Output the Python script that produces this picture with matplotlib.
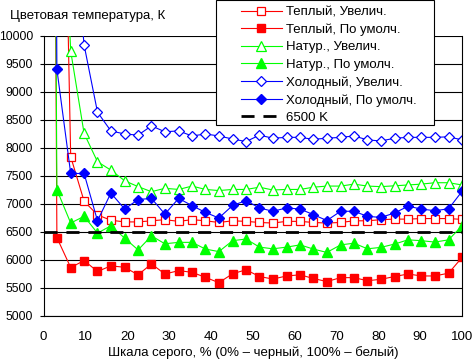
import matplotlib
matplotlib.use('Agg')
import matplotlib.pyplot as plt
from matplotlib.patches import Rectangle

plt.rcParams['font.family'] = ['Liberation Sans', 'DejaVu Sans']

# шкала серого, %
gray = [0, 3.2, 6.5, 9.7, 12.9, 16.1, 19.4, 22.6, 25.8, 29.0, 32.3, 35.5, 38.7,
        41.9, 45.2, 48.4, 51.6, 54.8, 58.1, 61.3, 64.5, 67.7, 71.0, 74.2, 77.4,
        80.6, 83.9, 87.1, 90.3, 93.5, 96.8, 100]

warm_zoom = [50000, 20000, 7845, 7050, 6805, 6710, 6680, 6680, 6700, 6720, 6690,
             6720, 6700, 6670, 6700, 6690, 6670, 6660, 6690, 6690, 6670, 6660,
             6670, 6700, 6700, 6720, 6730, 6730, 6740, 6740, 6740, 6725]
warm_def = [50000, 6400, 5865, 5990, 5795, 5895, 5870, 5735, 5930, 5750, 5810,
            5780, 5690, 5595, 5755, 5825, 5705, 5660, 5715, 5735, 5670, 5615,
            5685, 5685, 5630, 5655, 5705, 5750, 5715, 5715, 5765, 6045]
nat_zoom = [50000, 15000, 9730, 8260, 7755, 7605, 7415, 7310, 7220, 7280, 7260,
            7320, 7260, 7240, 7260, 7260, 7300, 7250, 7260, 7260, 7300, 7320,
            7320, 7355, 7320, 7310, 7325, 7340, 7355, 7380, 7380, 7340]
nat_def = [50000, 7255, 6660, 6780, 6480, 6610, 6390, 6180, 6430, 6290, 6315,
           6315, 6195, 6150, 6345, 6375, 6230, 6200, 6230, 6270, 6195, 6135,
           6270, 6300, 6200, 6225, 6285, 6360, 6345, 6320, 6360, 6610]
cold_zoom = [50000, 30000, 12500, 9840, 8640, 8305, 8250, 8230, 8395, 8290, 8305,
             8215, 8250, 8215, 8160, 8115, 8230, 8175, 8190, 8190, 8155, 8175,
             8190, 8215, 8145, 8125, 8175, 8190, 8190, 8190, 8200, 8145]
cold_def = [50000, 9405, 7545, 7545, 6700, 7195, 6910, 7080, 7100, 6820, 7100,
            6970, 6850, 6750, 6975, 7060, 6930, 6870, 6930, 6910, 6810, 6705,
            6870, 6870, 6780, 6760, 6840, 6960, 6910, 6880, 6915, 7225]
ref_k = 6500

labels = ['Теплый, Увелич.', 'Теплый, По умолч.', 'Натур., Увелич.',
          'Натур., По умолч.', 'Холодный, Увелич.', 'Холодный, По умолч.', '6500 K']

fig = plt.figure(figsize=(4.72, 3.59), dpi=100)
ax = fig.add_axes([43.5 / 472, 43 / 359, (462 - 43.5) / 472, (316 - 36) / 359])

ms = 5.5
ax.plot(gray, warm_zoom, color='red', lw=0.8, marker='s', ms=ms, mfc='white', mec='red', mew=0.9, label=labels[0])
ax.plot(gray, warm_def, color='red', lw=0.8, marker='s', ms=ms, mfc='red', mec='red', label=labels[1])
ax.plot(gray, nat_zoom, color='#00ff00', lw=0.8, marker='^', ms=ms + 1, mfc='white', mec='#00ff00', mew=0.9, label=labels[2])
ax.plot(gray, nat_def, color='#00ff00', lw=0.8, marker='^', ms=ms + 1, mfc='#00ff00', mec='#00ff00', label=labels[3])
ax.plot(gray, cold_zoom, color='blue', lw=0.8, marker='D', ms=ms - 0.5, mfc='white', mec='blue', mew=0.9, label=labels[4])
ax.plot(gray, cold_def, color='blue', lw=0.8, marker='D', ms=ms - 0.5, mfc='blue', mec='blue', label=labels[5])
ax.plot([gray[0], gray[-1]], [ref_k, ref_k], color='black', lw=2, dashes=(4.7, 3.2), label=labels[6])

ax.set_xlim(0, 100)
ax.set_ylim(5000, 10000)
ax.set_xticks(range(0, 101, 10))
ax.set_yticks(range(5000, 10001, 500))
ax.grid(axis='y', color='black', lw=0.8)
ax.set_axisbelow(True)
ax.spines['top'].set_visible(False)
for s in ['left', 'right', 'bottom']:
    ax.spines[s].set_linewidth(0.8)
ax.tick_params(axis='x', length=0, pad=11, labelsize=9.5)
ax.tick_params(axis='y', length=3, width=0.8, pad=4.5, labelsize=8.8)

ax.set_xlabel('Шкала серого, % (0% – черный, 100% – белый)', fontsize=9.5, labelpad=2)
fig.text(10 / 472, 1 - 16 / 359, 'Цветовая температура, К', fontsize=9.5, va='center', ha='left')

# рамка легенды
fig.patches.append(Rectangle((216 / 472, 1 - 125 / 359), (434 - 216) / 472, 125 / 359,
                             transform=fig.transFigure, fc='white', ec='black', lw=0.8, zorder=3))
leg = fig.legend(loc='upper left', bbox_to_anchor=(233 / 472, 1 + 2 / 359), frameon=False,
                 fontsize=9.5, handlelength=3.1, handletextpad=0.3, labelspacing=0.4,
                 borderpad=0.1)
leg.set_zorder(4)

plt.savefig('out.png', dpi=100)
